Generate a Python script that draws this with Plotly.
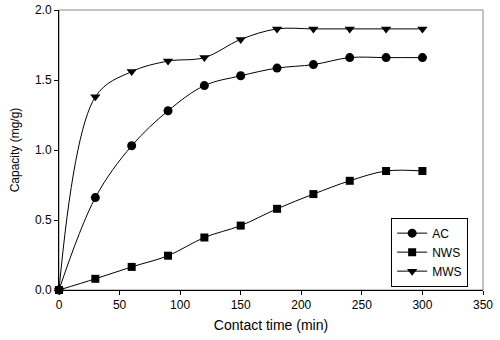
import plotly.graph_objects as go

time_min = [0, 30, 60, 90, 120, 150, 180, 210, 240, 270, 300]
ac = [0.0, 0.66, 1.03, 1.28, 1.46, 1.53, 1.585, 1.61, 1.66, 1.66, 1.66]
nws = [0.0, 0.08, 0.165, 0.245, 0.375, 0.46, 0.58, 0.685, 0.78, 0.85, 0.85]
mws = [0.0, 1.38, 1.56, 1.635, 1.66, 1.79, 1.865, 1.865, 1.865, 1.865, 1.865]

series = [("AC", ac, "circle"), ("NWS", nws, "square"), ("MWS", mws, "triangle-down")]

fig = go.Figure()
for name, vals, sym in series:
    fig.add_trace(go.Scatter(
        x=time_min, y=vals, name=name, mode="lines+markers",
        line=dict(color="black", width=1, shape="spline", smoothing=1.0),
        marker=dict(symbol=sym, size=9 if sym != "square" else 8, color="black"),
        cliponaxis=False,
    ))

font = "Arial, Liberation Sans, sans-serif"
fig.update_layout(
    width=500, height=340,
    margin=dict(l=59, r=17, t=10, b=50),
    paper_bgcolor="white", plot_bgcolor="white",
    font=dict(family=font, size=12, color="black"),
    showlegend=True,
    legend=dict(x=0.965, y=0.012, xanchor="right", yanchor="bottom",
                bordercolor="black", borderwidth=1, bgcolor="white",
                font=dict(size=12), tracegroupgap=0, itemwidth=30),
    shapes=[dict(type="rect", xref="paper", yref="paper", x0=0, y0=0, x1=1, y1=1,
                 line=dict(color="#888888", width=1), layer="below")],
)
fig.update_xaxes(range=[0, 350], tickvals=[0, 50, 100, 150, 200, 250, 300, 350],
                 showgrid=False, zeroline=False, showline=True, linecolor="black", linewidth=1,
                 ticks="outside", ticklen=4, tickcolor="black", automargin=False,
                 title=dict(text="Contact time (min)", font=dict(size=14), standoff=8))
fig.update_yaxes(range=[0, 2.0], tickvals=[0, 0.5, 1.0, 1.5, 2.0], tickformat=".1f",
                 showgrid=False, zeroline=False, showline=True, linecolor="black", linewidth=1,
                 ticks="outside", ticklen=4, tickcolor="black", automargin=False,
                 title=dict(text="Capacity (mg/g)", font=dict(size=12), standoff=12))

fig.write_html("out.html", config={"displayModeBar": False},
               post_script="document.body.style.margin='0';")
